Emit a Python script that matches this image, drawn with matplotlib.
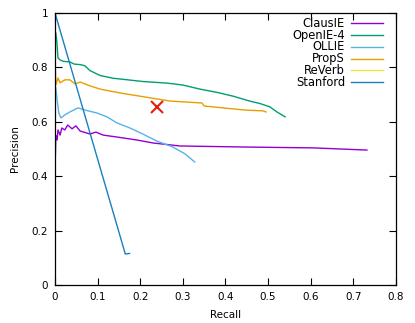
import matplotlib
matplotlib.use("Agg")
import matplotlib.pyplot as plt

plt.rcParams['font.family'] = ['DejaVu Sans']

clausie_x = [0.001, 0.002, 0.005, 0.007, 0.012, 0.016, 0.023, 0.03, 0.04, 0.049, 0.059, 0.082, 0.096, 0.113, 0.145, 0.192, 0.23, 0.293, 0.45, 0.605, 0.732]
clausie_y = [0.478, 0.55, 0.533, 0.57, 0.551, 0.577, 0.57, 0.588, 0.574, 0.585, 0.566, 0.555, 0.562, 0.551, 0.544, 0.533, 0.522, 0.511, 0.507, 0.504, 0.496]

openie_x = [0.002, 0.004, 0.005, 0.007, 0.012, 0.02, 0.035, 0.045, 0.059, 0.07, 0.082, 0.106, 0.136, 0.206, 0.263, 0.30, 0.34, 0.38, 0.418, 0.457, 0.481, 0.504, 0.521, 0.54]
openie_y = [0.926, 0.9, 0.88, 0.835, 0.827, 0.822, 0.82, 0.812, 0.81, 0.806, 0.788, 0.77, 0.76, 0.748, 0.742, 0.735, 0.72, 0.708, 0.694, 0.676, 0.667, 0.655, 0.636, 0.618]

ollie_x = [0.002, 0.005, 0.009, 0.014, 0.023, 0.035, 0.054, 0.07, 0.099, 0.122, 0.145, 0.176, 0.206, 0.239, 0.277, 0.305, 0.328]
ollie_y = [0.724, 0.68, 0.632, 0.614, 0.625, 0.636, 0.651, 0.643, 0.632, 0.618, 0.596, 0.577, 0.555, 0.529, 0.507, 0.482, 0.452]

props_x = [0.001, 0.002, 0.007, 0.012, 0.023, 0.035, 0.047, 0.059, 0.082, 0.106, 0.152, 0.223, 0.27, 0.345, 0.35, 0.394, 0.446, 0.488, 0.495]
props_y = [0.79, 0.735, 0.761, 0.743, 0.754, 0.754, 0.739, 0.746, 0.732, 0.72, 0.706, 0.688, 0.676, 0.669, 0.658, 0.651, 0.643, 0.64, 0.636]

reverb_x = []
reverb_y = []

stanford_x = [0.0, 0.165, 0.175]
stanford_y = [1.0, 0.114, 0.116]

point_x = [0.239]
point_y = [0.654]

series_names = ['ClausIE', 'OpenIE-4', 'OLLIE', 'PropS', 'ReVerb', 'Stanford']
series_colors = ['#9400d3', '#009e73', '#56b4e9', '#e69f00', '#f0e442', '#1a80bd']
series_x = [clausie_x, openie_x, ollie_x, props_x, reverb_x, stanford_x]
series_y = [clausie_y, openie_y, ollie_y, props_y, reverb_y, stanford_y]

fig = plt.figure(figsize=(4.15, 3.23), dpi=100)
ax = fig.add_axes([0.1325, 0.1176, 0.8215, 0.8424])

for xs, ys, c, name in zip(series_x, series_y, series_colors, series_names):
    ax.plot(xs, ys, color=c, lw=1.0, label=name)
ax.plot(point_x, point_y, linestyle='none', marker='x', color='#e51e10', markersize=9, mew=1.5)

ax.set_xlim(0, 0.8)
ax.set_ylim(0, 1)
ax.set_xticks([0, 0.1, 0.2, 0.3, 0.4, 0.5, 0.6, 0.7, 0.8])
ax.set_xticklabels(['0', '0.1', '0.2', '0.3', '0.4', '0.5', '0.6', '0.7', '0.8'])
ax.set_yticks([0, 0.2, 0.4, 0.6, 0.8, 1.0])
ax.set_yticklabels(['0', '0.2', '0.4', '0.6', '0.8', '1'])
ax.tick_params(direction='in', top=True, right=True, length=5, width=0.8, labelsize=7.5, pad=5)
for s in ax.spines.values():
    s.set_linewidth(0.9)
ax.set_xlabel('Recall', fontsize=7.5, labelpad=6)
ax.set_ylabel('Precision', fontsize=7.5, labelpad=8)

# key (gnuplot style: label right-aligned, sample line to its right)
ax_w, ax_h = 341.0, 272.0
text_x = (345 - 55) / ax_w
line_x0 = (351.5 - 55) / ax_w
line_x1 = (383 - 55) / ax_w
row0 = (285 - 23.3) / ax_h
row_step = 11.8 / ax_h
for i, (name, c) in enumerate(zip(series_names, series_colors)):
    yy = row0 - i * row_step
    ax.text(text_x, yy, name, transform=ax.transAxes, ha='right', va='center', fontsize=8.3)
    ax.plot([line_x0, line_x1], [yy, yy], transform=ax.transAxes, color=c, lw=1.0, clip_on=False)

fig.savefig('out.png', dpi=100)
